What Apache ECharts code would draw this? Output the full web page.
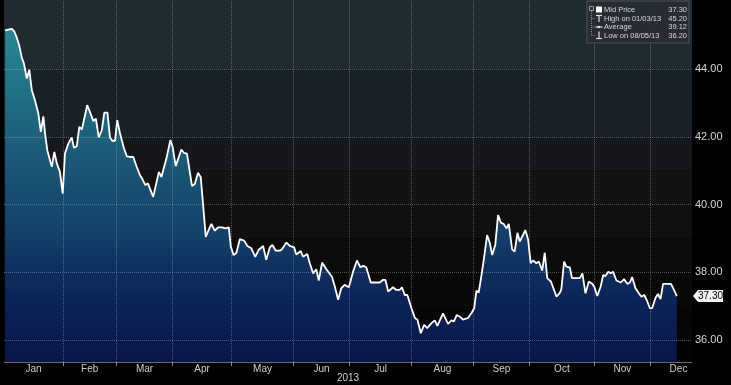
<!DOCTYPE html>
<html>
<head>
<meta charset="utf-8">
<script src="https://cdn.jsdelivr.net/npm/echarts@6/dist/echarts.min.js"></script>
<style>
html,body{margin:0;padding:0;background:#000;}
#chart{width:731px;height:385px;}
</style>
</head>
<body>
<div id="chart"></div>
<script>
// x = trading-day position in 2013 (0 = Jan 2), y = mid price
const tradingDay = [0.4,2.7,3.6,4.5,5.4,6.3,7.1,8.1,9.0,9.9,
11.0,12.2,13.1,14.0,14.6,15.4,17.0,17.9,18.8,19.9,
20.9,21.7,22.9,24.1,24.9,25.9,26.8,27.7,29.6,30.6,
31.8,32.7,33.7,34.8,35.7,36.8,37.7,38.5,39.5,40.3,
41.3,42.7,43.7,44.8,46.0,47.2,48.4,
49.1,50.3,51.2,53.1,55.1,56.0,57.8,59.2,60.0,61.1,
62.2,63.1,64.0,65.1,66.9,67.9,69.0,70.0,71.8,72.8,
73.8,75.0,76.2,77.6,78.8,80.0,80.7,81.7,82.7,83.9,
85.4,86.6,88.0,89.4,90.6,92.2,93.3,94.6,95.5,96.7,
98.1,
98.9,100.5,101.7,103.2,104.0,105.6,106.4,107.9,108.8,110.0,
111.1,112.0,113.2,114.7,116.7,117.7,118.9,120.0,121.2,122.7,
124.2,125.6,126.8,127.8,128.9,130.5,131.9,133.7,134.9,135.7,
136.7,138.4,139.6,140.8,141.6,142.6,143.5,145.0,146.2,147.1,
148.3,149.5,150.6,152.1,153.3,154.2,156.2,158.0,159.2,160.1,
161.1,162.2,163.3,165.1,166.3,167.3,168.1,168.9,169.9,170.7,
171.9,172.9,173.7,174.8,175.8,176.8,177.8,178.8,179.6,180.8,
181.7,182.7,183.5,185.5,186.5,187.4,188.3,189.4,190.3,191.5,
192.4,193.3,194.6,196.6,197.8,
198.3,199.3,200.1,201.3,202.1,203.7,204.9,205.8,206.9,208.1,
209.3,210.0,211.1,212.3,213.2,214.0,215.0,215.9,216.7,217.9,
219.5,220.6,221.8,222.7,223.5,224.7,225.9,226.8,227.8,228.9,
229.8,230.6,231.8,232.7,233.6,234.5,235.7,237.3,238.4,239.4];

const price = [45.15,45.20,45.13,44.95,44.71,44.36,44.17,43.73,43.99,43.38,
43.09,42.70,42.15,42.61,42.11,41.61,41.12,41.56,41.22,40.97,
40.33,41.52,41.81,41.99,41.68,41.73,42.30,42.22,42.94,42.74,
42.47,42.54,41.99,42.20,42.72,42.72,41.99,41.89,41.89,42.50,
42.10,41.66,41.43,41.41,41.41,41.12,40.87,
40.78,40.58,40.63,40.23,40.97,40.82,41.37,41.91,41.71,41.14,
41.41,41.63,41.53,41.51,40.55,40.61,40.94,40.82,39.05,39.25,
39.43,39.23,39.33,39.33,39.30,39.33,38.76,38.51,38.58,38.98,
38.94,38.78,38.71,38.46,38.66,38.78,38.37,38.74,38.81,38.64,
38.64,
38.68,38.88,38.78,38.74,38.53,38.63,38.46,38.54,38.27,37.97,
38.09,37.76,38.29,38.09,37.87,37.58,37.19,37.53,37.63,37.56,
38.02,38.35,38.15,38.19,38.15,37.70,37.70,37.70,37.78,37.78,
37.43,37.56,37.48,37.48,37.56,37.33,37.33,36.94,36.65,36.60,
36.20,36.45,36.35,36.50,36.58,36.42,36.79,36.48,36.58,36.55,
36.74,36.69,36.60,36.65,36.79,36.94,37.46,37.40,37.92,38.37,
39.10,38.86,38.51,38.81,39.69,39.47,39.43,39.30,39.43,38.68,
38.61,39.17,38.91,39.25,38.96,38.27,38.35,38.27,38.32,38.05,
38.58,37.83,37.73,37.28,37.40,
37.50,38.32,38.17,38.15,37.83,37.83,37.83,37.97,37.38,37.73,
37.66,37.58,37.30,37.58,37.92,37.89,38.02,37.97,38.02,37.76,
37.70,37.80,37.66,37.70,37.86,37.53,37.38,37.28,37.33,37.14,
36.94,36.94,37.24,37.36,37.21,37.66,37.66,37.66,37.48,37.30];

const months = ['Jan','Feb','Mar','Apr','May','Jun','Jul','Aug','Sep','Oct','Nov','Dec'];
const monthStart = [21,40,60,81,103,123,145,167,187,210,230];
const monthMid = [10.5,30.5,50,70.5,92,113,134,156,177,198.5,220,240];
const yTickValues = [36,37,38,39,40,41,42,43,44,45];
const yLabelValues = [36,38,40,42,44];
const gridValues = [36,38,40,42,44];
const legendLabels = ['Mid Price','High on 01/03/13','Average','Low on 08/05/13'];
const legendValues = ['37.30','45.20','39.12','36.20'];
const lastPrice = 37.30;

const bands = [
  [44,46.05,'#1f2b31'],[42,44,'#192128'],[41,42,'#15171b'],[40,41,'#151311'],
  [39,40,'#101010'],[38,39,'#0c0c0c'],[37,38,'#090909'],[36,37,'#060606'],[35.35,36,'#030303']
];

const X_MAX = 244.8, Y_MIN = 35.35, Y_MAX = 46.05;
const chart = echarts.init(document.getElementById('chart'));
const font = "'Liberation Sans', Arial, sans-serif";

const data = tradingDay.map((d,i)=>[d, price[i]]);

chart.setOption({
  animation:false,
  backgroundColor:'#000',
  grid:{left:4,right:39,top:0,bottom:23,containLabel:false,outerBoundsMode:'none'},
  xAxis:{
    type:'value',min:0,max:X_MAX,
    axisLine:{show:true,onZero:false,lineStyle:{color:'#6a6a6a'}},
    axisTick:{show:true,customValues:monthStart,length:4,lineStyle:{color:'#8a8a8a'}},
    axisLabel:{customValues:monthMid,formatter:v=>months[monthMid.indexOf(v)],color:'#cfcfcf',fontSize:10,fontFamily:font,margin:2},
    splitLine:{show:false},
    name:'2013',nameLocation:'middle',nameGap:11,nameMoveOverlap:false,
    nameTextStyle:{color:'#cfcfcf',fontSize:10,fontFamily:font}
  },
  yAxis:{
    type:'value',position:'right',min:Y_MIN,max:Y_MAX,
    axisLine:{show:true,lineStyle:{color:'#8a8a8a'}},
    axisTick:{show:true,customValues:yTickValues,length:3,lineStyle:{color:'#bdbdbd'}},
    axisLabel:{customValues:yLabelValues,formatter:v=>v.toFixed(2),color:'#d4d4d4',fontSize:11,fontFamily:font,margin:3},
    splitLine:{show:false}
  },
  series:[
    {
      type:'line',z:1,data:[[0,40]],showSymbol:false,silent:true,
      lineStyle:{width:0,opacity:0},
      markArea:{silent:true,data:bands.map(b=>[{yAxis:b[0],itemStyle:{color:b[2]}},{yAxis:b[1]}])}
    },
    {
      type:'line',z:3,data:data,showSymbol:false,smooth:false,
      lineStyle:{color:'#ffffff',width:1.8},
      areaStyle:{origin:'start',opacity:1,color:{type:'linear',x:0,y:0,x2:0,y2:1,colorStops:[
        {offset:0,color:'#2a8696'},
        {offset:0.22,color:'#1f6d82'},
        {offset:0.43,color:'#1a5474'},
        {offset:0.63,color:'#133e68'},
        {offset:0.73,color:'#0f2e5e'},
        {offset:0.83,color:'#0c2256'},
        {offset:0.93,color:'#0a1a4e'},
        {offset:1,color:'#091546'}
      ]}},
      markLine:{
        silent:true,symbol:['none','none'],label:{show:false},
        lineStyle:{type:'dotted',color:'rgba(210,210,210,0.35)',width:1},
        data:monthStart.map(m=>({xAxis:m})).concat(gridValues.map(g=>({yAxis:g})))
      }
    }
  ]
});

// price tag & legend panel
const p = chart.convertToPixel({xAxisIndex:0,yAxisIndex:0},[X_MAX,lastPrice]);
const tx = p[0], ty = p[1];
const g = [];
g.push({type:'polygon',shape:{points:[[tx+1,ty],[tx+6,ty-6],[tx+31,ty-6],[tx+31,ty+6],[tx+6,ty+6]]},style:{fill:'#f2f2f2'},z:10});
g.push({type:'text',x:tx+18.5,y:ty,style:{text:lastPrice.toFixed(2),fill:'#000',fontSize:10,fontFamily:font,align:'center',verticalAlign:'middle'},z:11});

const bx=587, by=1;
g.push({type:'rect',shape:{x:bx,y:by,width:102,height:42},style:{fill:'rgba(40,45,50,0.92)',stroke:'rgba(95,100,105,0.7)',lineWidth:1},z:10});
const rows=[10,18.5,27,35.5];
g.push({type:'rect',shape:{x:589.5,y:6.5,width:4,height:4},style:{fill:'none',stroke:'#9a9a9a',lineWidth:1},z:11});
g.push({type:'line',shape:{x1:591.5,y1:11,x2:591.5,y2:rows[3]},style:{stroke:'#8a8a8a',lineWidth:1,lineDash:[1,1]},z:11});
[1,2,3].forEach(i=>g.push({type:'line',shape:{x1:591.5,y1:rows[i],x2:595,y2:rows[i]},style:{stroke:'#8a8a8a',lineWidth:1,lineDash:[1,1]},z:11}));
g.push({type:'rect',shape:{x:596,y:6.5,width:6,height:6},style:{fill:'#ffffff'},z:11});
g.push({type:'line',shape:{x1:596,y1:15.5,x2:602,y2:15.5},style:{stroke:'#e0e0e0',lineWidth:1.2},z:11});
g.push({type:'line',shape:{x1:599,y1:15.5,x2:599,y2:22},style:{stroke:'#e0e0e0',lineWidth:1.2},z:11});
g.push({type:'line',shape:{x1:595.5,y1:27,x2:602.5,y2:27},style:{stroke:'#e0e0e0',lineWidth:1.2},z:11});
g.push({type:'circle',shape:{cx:599,cy:27,r:1.3},style:{fill:'#e0e0e0'},z:11});
g.push({type:'line',shape:{x1:599,y1:31.5,x2:599,y2:38.5},style:{stroke:'#e0e0e0',lineWidth:1.2},z:11});
g.push({type:'line',shape:{x1:596,y1:38.5,x2:602,y2:38.5},style:{stroke:'#e0e0e0',lineWidth:1.2},z:11});
legendLabels.forEach((t,i)=>{
  g.push({type:'text',x:604,y:rows[i],style:{text:t,fill:'#d6d6d6',fontSize:7.5,fontFamily:font,verticalAlign:'middle'},z:11});
  g.push({type:'text',x:687,y:rows[i],style:{text:legendValues[i],fill:'#d6d6d6',fontSize:7.5,fontFamily:font,align:'right',verticalAlign:'middle'},z:11});
});
chart.setOption({graphic:g});
</script>
</body>
</html>
